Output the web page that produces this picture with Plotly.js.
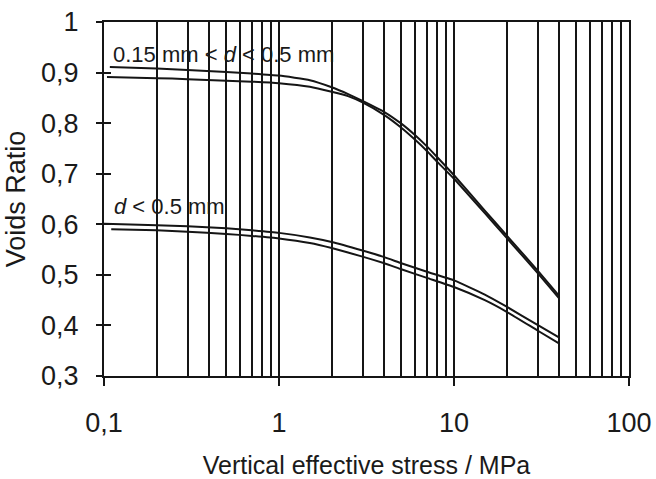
<!DOCTYPE html>
<html>
<head>
<meta charset="utf-8">
<script src="https://cdn.plot.ly/plotly-3.0.1.min.js"></script>
<style>html,body{margin:0;padding:0;background:#fff;}#chart{width:656px;height:479px;}</style>
</head>
<body>
<div id="chart"></div>
<script>
// Coarse fraction 0.15 mm < d < 0.5 mm, two tests
var stressA = [0.108, 0.2, 0.3, 0.5, 0.7, 1, 1.5, 2, 2.5, 3, 4, 5, 6, 7, 8, 10, 15, 20, 30, 40];
var voidsA  = [0.911, 0.908, 0.905, 0.901, 0.898, 0.894, 0.885, 0.871, 0.857, 0.844, 0.822, 0.799, 0.776, 0.754, 0.733, 0.697, 0.627, 0.578, 0.509, 0.458];
var stressB = [0.104, 0.2, 0.3, 0.5, 0.7, 1, 1.5, 2, 2.5, 3, 4, 5, 6, 7, 8, 10, 15, 20, 30, 40];
var voidsB  = [0.891, 0.889, 0.887, 0.884, 0.882, 0.879, 0.872, 0.862, 0.853, 0.841, 0.816, 0.791, 0.767, 0.745, 0.724, 0.690, 0.622, 0.573, 0.504, 0.453];
// Whole sample d < 0.5 mm, two tests
var stressC = [0.1, 0.2, 0.3, 0.5, 0.7, 1, 1.5, 2, 3, 4, 5, 7, 10, 15, 20, 30, 40];
var voidsC  = [0.601, 0.598, 0.596, 0.592, 0.588, 0.583, 0.574, 0.565, 0.548, 0.535, 0.523, 0.506, 0.489, 0.461, 0.437, 0.401, 0.376];
var stressD = [0.11, 0.2, 0.3, 0.5, 0.7, 1, 1.5, 2, 3, 4, 5, 7, 10, 15, 20, 30, 40];
var voidsD  = [0.590, 0.588, 0.585, 0.581, 0.577, 0.572, 0.563, 0.553, 0.536, 0.523, 0.511, 0.494, 0.476, 0.450, 0.427, 0.390, 0.364];

var labelUpper = "0.15 mm &lt; <i>d</i> &lt; 0.5 mm";
var labelLower = "<i>d</i> &lt; 0.5 mm";
var xTickVals = [0.1, 1, 10, 100];
var yTickVals = [0.3, 0.4, 0.5, 0.6, 0.7, 0.8, 0.9, 1];

var lineStyle = {color: '#151515', width: 2, shape: 'spline', smoothing: 0.4};
function mk(x, y) {
  return {x: x, y: y, type: 'scatter', mode: 'lines', line: lineStyle, hoverinfo: 'skip', showlegend: false};
}
var traces = [mk(stressA, voidsA), mk(stressB, voidsB), mk(stressC, voidsC), mk(stressD, voidsD),
  {x: [], y: [], yaxis: 'y2', type: 'scatter', showlegend: false}];

var fam = 'Liberation Sans, Arial, Helvetica, sans-serif';
var tickFont = {family: fam, size: 27, color: '#1a1a1a'};
var annFont = {family: fam, size: 22, color: '#1a1a1a'};

var layout = {
  width: 656, height: 479,
  margin: {l: 104, r: 27, t: 22, b: 103},
  paper_bgcolor: '#fff', plot_bgcolor: '#fff',
  separators: ',.',
  font: tickFont,
  xaxis: {
    type: 'log', range: [-1, 2], automargin: false,
    tickvals: xTickVals, ticktext: xTickVals.map(function(v){return String(v).replace('.', ',');}),
    ticks: 'outside', ticklen: 8, tickwidth: 2, tickcolor: '#151515', ticklabelstandoff: 14,
    showline: true, linecolor: '#151515', linewidth: 2, mirror: true,
    showgrid: true, gridcolor: '#151515', gridwidth: 2,
    minor: {dtick: 'D1', showgrid: true, gridcolor: '#151515', gridwidth: 2, ticks: ''},
    zeroline: false,
    tickfont: tickFont,
    title: {text: 'Vertical effective stress / MPa', font: {family: fam, size: 25, color: '#1a1a1a'}, standoff: 24}
  },
  yaxis: {
    range: [0.3, 1], tickvals: yTickVals, automargin: false,
    ticktext: yTickVals.map(function(v){return String(v).replace('.', ',');}),
    ticks: 'outside', ticklen: 6, tickwidth: 2, tickcolor: '#151515', ticklabelstandoff: 12,
    showline: true, linecolor: '#151515', linewidth: 2, mirror: true,
    showgrid: false, zeroline: false,
    tickfont: tickFont,
    title: {text: 'Voids Ratio', font: {family: fam, size: 27, color: '#1a1a1a'}, standoff: 8}
  },
  yaxis2: {
    overlaying: 'y', matches: 'y', side: 'left', range: [0.3, 1], tickvals: yTickVals,
    ticks: 'inside', ticklen: 7, tickwidth: 2, tickcolor: '#151515',
    showticklabels: false, showline: false, showgrid: false, zeroline: false
  },
  annotations: [
    {x: -0.962, y: 0.935, xref: 'x', yref: 'y', text: labelUpper, showarrow: false, xanchor: 'left', yanchor: 'middle', font: annFont},
    {x: -0.954, y: 0.636, xref: 'x', yref: 'y', text: labelLower, showarrow: false, xanchor: 'left', yanchor: 'middle', font: annFont}
  ]
};

Plotly.newPlot('chart', traces, layout, {displayModeBar: false, staticPlot: true});
</script>
</body>
</html>
